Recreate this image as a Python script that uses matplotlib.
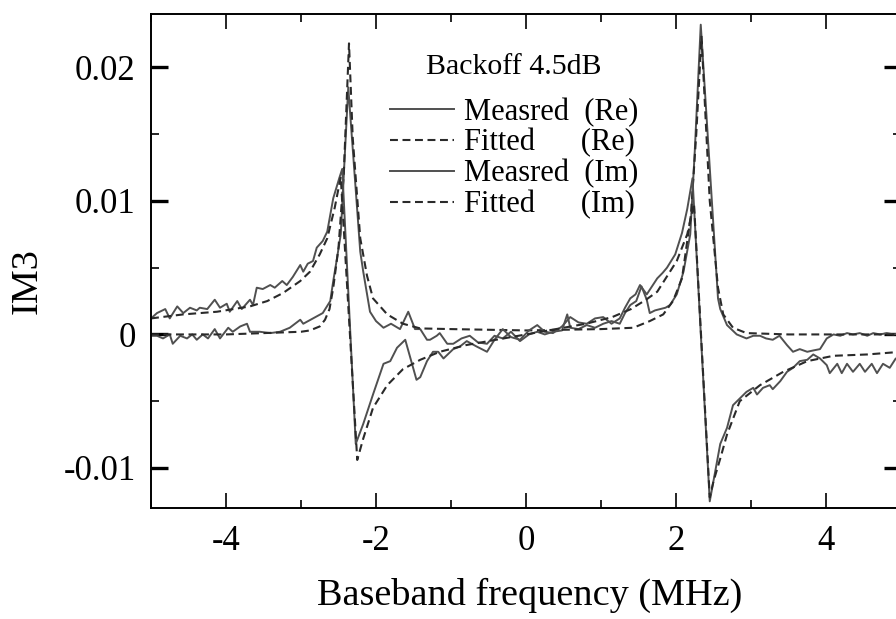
import numpy as np
import matplotlib
matplotlib.use('Agg')
import matplotlib.pyplot as plt
from matplotlib.ticker import MultipleLocator

plt.rcParams['font.family'] = ['Liberation Serif', 'DejaVu Serif']

# measured, real part
mre_x = [-5.00, -4.92, -4.84, -4.75, -4.71, -4.61, -4.52, -4.45, -4.39, -4.31, -4.24, -4.15, -4.08,
         -3.97, -3.91, -3.81, -3.72, -3.68, -3.55, -3.41, -3.28, -3.15, -3.01, -2.97, -2.84, -2.71,
         -2.61, -2.57, -2.52, -2.47, -2.37, -2.21, -2.17, -2.08, -2.00, -1.90, -1.80, -1.68, -1.57,
         -1.48, -1.41, -1.32, -1.28, -1.19, -1.15, -1.05, -0.97, -0.86, -0.75, -0.64, -0.52, -0.42,
         -0.31, -0.20, -0.08, 0.04, 0.15, 0.25, 0.36, 0.48, 0.55, 0.59, 0.70, 0.81, 0.92, 1.03, 1.14,
         1.25, 1.32, 1.39, 1.47, 1.54, 1.61, 1.65, 1.72, 1.79, 1.86, 1.92, 2.01, 2.10, 2.19, 2.25,
         2.33, 2.56, 2.59, 2.68, 2.81, 2.94, 3.03, 3.12, 3.20, 3.29, 3.38, 3.48, 3.56, 3.65, 3.75,
         3.83, 3.92, 4.01, 4.10, 4.19, 4.28, 4.36, 4.45, 4.55, 4.63, 4.72, 4.81, 4.90, 5.00]
mre_y = [-0.0001, -0.0001, -0.0003, 0.0000, -0.0007, -0.0001, -0.0003, 0.0000, -0.0004, 0.0000,
         -0.0003, 0.0004, -0.0003, 0.0005, 0.0002, 0.0006, 0.0008, 0.0002, 0.0002, 0.0001, 0.0002,
         0.0005, 0.0011, 0.0008, 0.0012, 0.0016, 0.0025, 0.0040, 0.0057, 0.0075, 0.0185, 0.0062,
         0.0047, 0.0017, 0.0010, 0.0005, 0.0008, 0.0004, 0.0017, 0.0004, 0.0004, -0.0004, -0.0004,
         -0.0001, 0.0001, -0.0007, -0.0007, -0.0003, -0.0001, -0.0006, -0.0007, -0.0001, -0.0003,
         0.0002, -0.0005, 0.0000, 0.0002, 0.0000, 0.0002, 0.0003, 0.0015, 0.0005, 0.0004, 0.0007,
         0.0005, 0.0008, 0.0010, 0.0008, 0.0016, 0.0022, 0.0025, 0.0036, 0.0026, 0.0016, 0.0018,
         0.0019, 0.0020, 0.0022, 0.0030, 0.0047, 0.0075, 0.0137, 0.0232, 0.0027, 0.0019, 0.0007,
         0.0000, -0.0003, -0.0001, -0.0001, -0.0003, -0.0004, -0.0001, -0.0008, -0.0013, -0.0011,
         -0.0013, -0.0012, -0.0011, -0.0003, 0.0000, -0.0001, 0.0001, 0.0000, 0.0001, -0.0001,
         0.0001, 0.0000, 0.0001, 0.0000, 0.0001]

# measured, imaginary part
mim_x = [-5.00, -4.92, -4.81, -4.75, -4.65, -4.57, -4.48, -4.39, -4.35, -4.25, -4.15, -4.08, -3.99,
         -3.95, -3.85, -3.79, -3.68, -3.64, -3.59, -3.51, -3.41, -3.35, -3.25, -3.19, -3.11, -3.01,
         -2.97, -2.91, -2.84, -2.79, -2.71, -2.65, -2.57, -2.49, -2.45, -2.27, -2.17, -2.04, -1.90,
         -1.81, -1.72, -1.61, -1.46, -1.41, -1.32, -1.24, -1.17, -1.10, -0.97, -0.88, -0.79, -0.66,
         -0.52, -0.42, -0.31, -0.20, -0.08, 0.04, 0.15, 0.25, 0.36, 0.48, 0.59, 0.70, 0.81, 0.92,
         1.03, 1.14, 1.25, 1.32, 1.39, 1.46, 1.52, 1.61, 1.68, 1.75, 1.82, 1.88, 1.99, 2.08, 2.15,
         2.22, 2.45, 2.59, 2.68, 2.76, 2.85, 2.94, 3.03, 3.08, 3.16, 3.25, 3.29, 3.39, 3.48, 3.56,
         3.65, 3.75, 3.83, 3.92, 4.01, 4.05, 4.15, 4.21, 4.28, 4.36, 4.45, 4.52, 4.61, 4.68, 4.76,
         4.85, 4.93, 5.00]
mim_y = [0.0012, 0.0016, 0.0019, 0.0012, 0.0021, 0.0016, 0.0020, 0.0018, 0.0020, 0.0019, 0.0026,
         0.0020, 0.0023, 0.0017, 0.0025, 0.0019, 0.0026, 0.0022, 0.0035, 0.0034, 0.0037, 0.0035,
         0.0040, 0.0037, 0.0043, 0.0052, 0.0047, 0.0053, 0.0055, 0.0065, 0.0070, 0.0077, 0.0102,
         0.0117, 0.0124, -0.0082, -0.0067, -0.0045, -0.0022, -0.0020, -0.0010, -0.0004, -0.0034,
         -0.0032, -0.0020, -0.0013, -0.0013, -0.0018, -0.0011, -0.0009, -0.0005, -0.0009, -0.0013,
         -0.0004, 0.0004, -0.0002, -0.0004, 0.0003, 0.0007, 0.0002, 0.0001, 0.0006, 0.0013, 0.0009,
         0.0008, 0.0012, 0.0013, 0.0008, 0.0012, 0.0020, 0.0027, 0.0030, 0.0037, 0.0030, 0.0036,
         0.0042, 0.0046, 0.0050, 0.0060, 0.0076, 0.0094, 0.0117, -0.0125, -0.0082, -0.0070, -0.0053,
         -0.0048, -0.0043, -0.0040, -0.0045, -0.0040, -0.0038, -0.0041, -0.0035, -0.0028, -0.0025,
         -0.0020, -0.0019, -0.0015, -0.0018, -0.0023, -0.0029, -0.0022, -0.0029, -0.0022, -0.0028,
         -0.0022, -0.0028, -0.0022, -0.0029, -0.0022, -0.0025, -0.0018, -0.0020]

# fitted, real part
fre_x = [-5.0, -4.0, -3.5, -3.0, -2.88, -2.75, -2.68, -2.62, -2.57, -2.50, -2.43, -2.36, -2.31,
         -2.21, -2.12, -2.04, -1.85, -1.64, -1.41, -1.0, 0.0, 1.0, 1.43, 1.65, 1.83, 1.96, 2.08,
         2.20, 2.27, 2.34, 2.45, 2.56, 2.63, 2.76, 2.94, 3.5, 5.0]
fre_y = [0.0000, 0.0000, 0.0001, 0.0002, 0.0003, 0.0006, 0.0011, 0.0019, 0.0035, 0.0065, 0.0120,
         0.0218, 0.0147, 0.0072, 0.0044, 0.0027, 0.0015, 0.0008, 0.00045, 0.0004, 0.0003, 0.0004,
         0.0005, 0.0010, 0.0015, 0.0025, 0.0042, 0.0090, 0.0150, 0.0223, 0.0100, 0.0035, 0.0015,
         0.0005, 0.0001, 0.0000, 0.0000]

# fitted, imaginary part
fim_x = [-5.0, -4.57, -4.12, -3.68, -3.45, -3.24, -3.01, -2.88, -2.75, -2.65, -2.55, -2.47, -2.25,
         -2.17, -2.04, -1.85, -1.64, -1.41, -1.15, -0.80, -0.40, 0.0, 0.40, 0.80, 1.15, 1.40, 1.60,
         1.75, 2.01, 2.15, 2.24, 2.45, 2.50, 2.59, 2.68, 2.85, 3.12, 3.43, 3.75, 4.10, 4.55, 5.0]
fim_y = [0.0012, 0.0015, 0.0017, 0.0021, 0.0025, 0.0031, 0.0040, 0.0047, 0.0060, 0.0072, 0.0095,
         0.0118, -0.0094, -0.0078, -0.0055, -0.0038, -0.0026, -0.0019, -0.0013, -0.0008, -0.0004,
         0.0000, 0.0004, 0.0008, 0.0013, 0.0019, 0.0026, 0.0032, 0.0055, 0.0075, 0.0098, -0.0122,
         -0.0110, -0.0093, -0.0075, -0.0050, -0.0038, -0.0028, -0.0020, -0.0016, -0.0015, -0.0013]

fig = plt.figure(figsize=(8.96, 6.19), dpi=100)
ax = fig.add_axes([151/896, 111/619, 750/896, 494/619])

c_meas = '#505050'
c_fit = '#2a2a2a'
dash = (3.8, 2.2)

l1, = ax.plot(mre_x, mre_y, '-', color=c_meas, lw=1.4)
l2, = ax.plot(fre_x, fre_y, '--', color=c_fit, lw=1.5, dashes=dash)
l3, = ax.plot(mim_x, mim_y, '-', color=c_meas, lw=1.4)
l4, = ax.plot(fim_x, fim_y, '--', color=c_fit, lw=1.5, dashes=dash)

ax.set_xlim(-5, 5)
ax.set_ylim(-0.0130, 0.0240)

ax.xaxis.set_minor_locator(MultipleLocator(1))
ax.yaxis.set_minor_locator(MultipleLocator(0.005))
ax.set_yticks([-0.01, 0, 0.01, 0.02])
ax.set_yticklabels(['-0.01', '0', '0.01', '0.02'])
ax.set_xticks([-4, -2, 0, 2, 4])
ax.set_xticklabels(['-4', '-2', '0', '2', '4'])

for s in ax.spines.values():
    s.set_linewidth(1.4)

ax.tick_params(axis='both', which='both', direction='in', top=True, right=True, labelsize=25)
ax.tick_params(axis='x', which='major', length=11, width=1.2, pad=12)
ax.tick_params(axis='x', which='minor', length=6, width=1.2)
ax.tick_params(axis='y', which='major', length=12, width=2.4, pad=11)
ax.tick_params(axis='y', which='minor', length=6, width=1.2)

ax.set_xlabel('Baseband frequency (MHz)', fontsize=27.5)
ax.set_ylabel('IM3', fontsize=27.5)
ax.yaxis.set_label_coords(-0.142, 0.46)
ax.xaxis.set_label_coords(0.505, -0.142)

leg = ax.legend([l1, l2, l3, l4],
                ['Measred  (Re)', 'Fitted      (Re)', 'Measred  (Im)', 'Fitted      (Im)'],
                title='Backoff 4.5dB', loc='upper left', bbox_to_anchor=(0.319, 0.92),
                frameon=False, fontsize=22, title_fontsize=21.5, borderpad=0,
                handlelength=2.1, handletextpad=0.3, labelspacing=0.05, borderaxespad=0)
leg._legend_box.sep = 13

fig.savefig('out.png', dpi=100)
